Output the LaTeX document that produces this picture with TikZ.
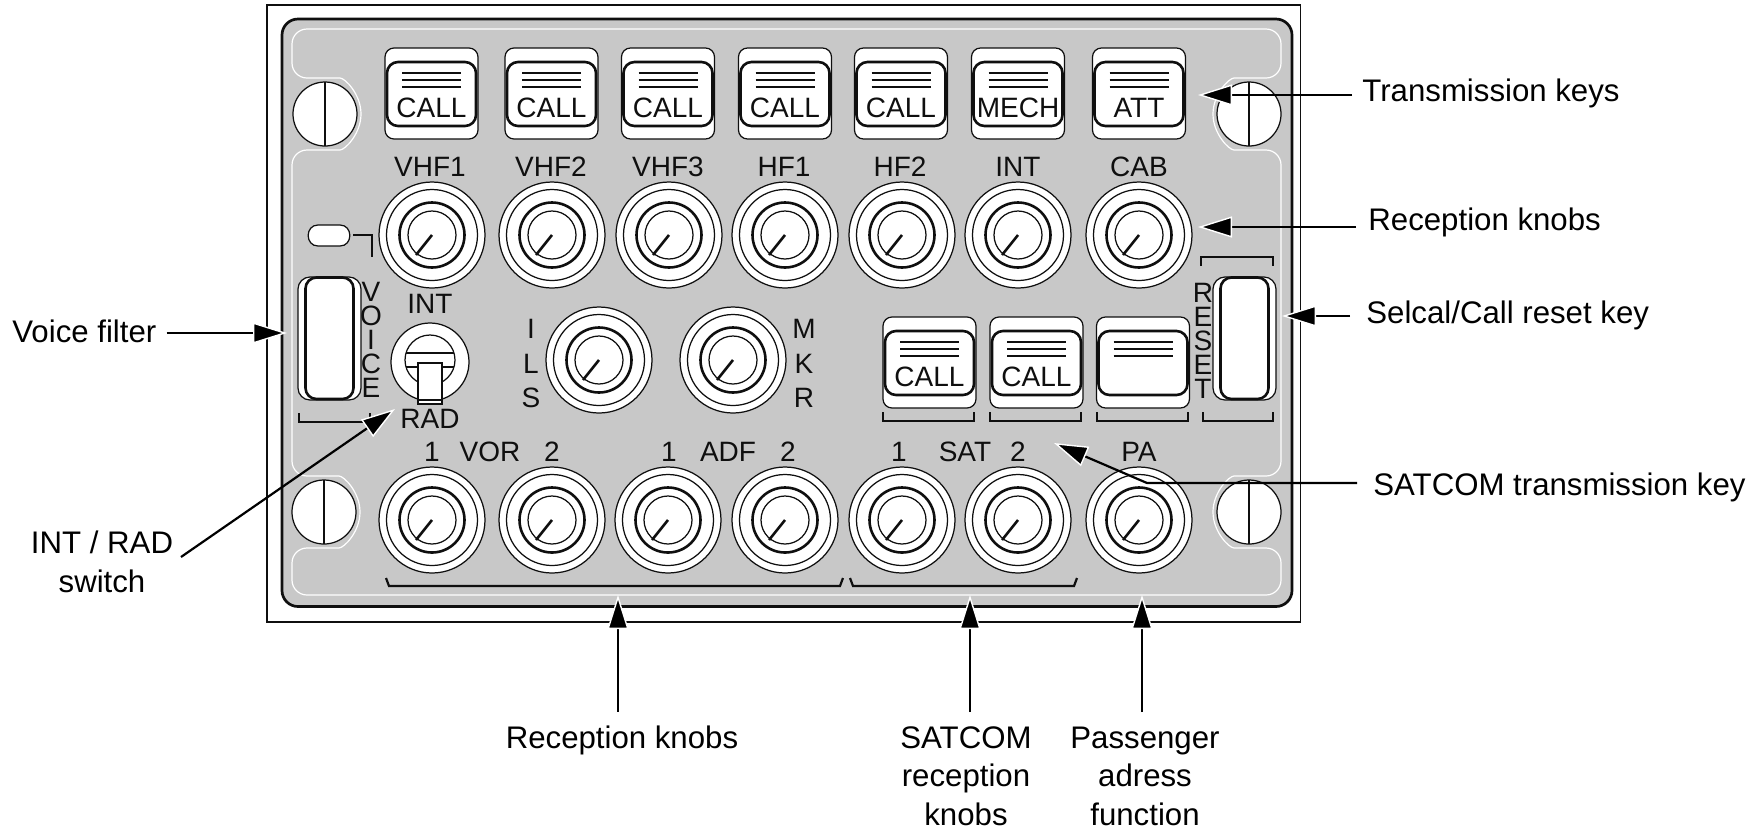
\documentclass[tikz,border=0pt]{standalone}
\usepackage{fontspec}
\setmainfont{Liberation Sans}
\usetikzlibrary{arrows.meta}
\definecolor{PanelGrey}{RGB}{200, 200, 200}
\definecolor{PanelInk}{RGB}{15, 15, 15}
\tikzset{
    frameline/.style={draw=PanelInk, line width=0.6pt},
    panelbody/.style={draw=PanelInk, fill=PanelGrey, line width=1.35pt, rounded corners=8pt},
    panelseam/.style={draw=white, line width=0.6pt, rounded corners=7.5pt},
    thinline/.style={draw=PanelInk, line width=0.62pt},
    heavyline/.style={draw=PanelInk, line width=1.3pt},
    bracketline/.style={draw=PanelInk, line width=1.1pt},
    paneltext/.style={inner sep=0pt, text=PanelInk, font=\fontsize{14}{12}\selectfont, align=center},
    wideletters/.style={paneltext, font=\fontsize{14}{17.25}\selectfont},
    notetext/.style={inner sep=0pt, text=black, font=\fontsize{15.6}{19.25}\selectfont, align=center},
    callout/.style={
      draw=black, line width=1.1pt,
      -{Triangle[length=17pt, width=10.5pt, line width=0.7pt, color=white, fill=black]}
    },
    keycap/.pic={
      \draw[thinline, fill=white, rounded corners=4.5pt] (-46.5,0) rectangle (46.5,91);
      \draw[heavyline, fill=white, rounded corners=5.5pt] (-44.5,14) rectangle (44.5,78);
      \foreach \capy in {25,32,39} {
        \draw[thinline] (-29.5,\capy) -- (29.5,\capy);
      }
      \node[paneltext] (-legend) at (0,60) {#1};
    },
    knobdial/.pic={
      \draw[thinline, fill=white] (0,0) circle[radius=53];
      \draw[thinline] (0,0) circle[radius=45.5];
      \draw[heavyline] (0,0) circle[radius=32.5];
      \draw[thinline] (0,0) circle[radius=24];
      \draw[heavyline] (0,0) -- (-16,20);
    },
    screwhead/.pic={
      \draw[thinline, fill=white] (0,0) circle[radius=32];
      \draw[thinline] (0,-32) -- (0,32);
    },
    tallkey/.pic={
      \draw[thinline, fill=white, rounded corners=6pt] (-31.5,-61.5) rectangle (31.5,61.5);
      \draw[heavyline, fill=white, rounded corners=5.5pt] (-24,-61) rectangle (24,60.5);
    }
}
\begin{document}
\begin{tikzpicture}[x=0.5pt, y=-0.5pt]
    \useasboundingbox (0,0) rectangle (1753,832);
    \draw[frameline] (267,5) rectangle (1300.5,622);
    \draw[panelbody] (282,19) rectangle (1292,606.5);
    \draw[panelseam] (325,29) -- (1281,29) -- (1281,78) -- (1249,78)
      arc[start angle=-90, end angle=-270, radius=36] -- (1281,150) -- (1281,476) -- (1249,476)
      arc[start angle=-90, end angle=-270, radius=36] -- (1281,548) -- (1281,595) -- (292,595) -- (292,548) -- (324,548)
      arc[start angle=90, end angle=-90, radius=36] -- (292,476) -- (292,150) -- (325,150)
      arc[start angle=90, end angle=-90, radius=36] -- (292,78) -- (292,29) -- cycle;

    \foreach \screwx/\screwy in {325/114, 1249/114, 324/512, 1249/512} {
      \pic at (\screwx,\screwy) {screwhead};
    }

    \foreach \keyx/\keyname/\keytext in {431.5/keyA/CALL, 551.5/keyB/CALL, 668/keyC/CALL, 785/keyD/CALL, 901/keyE/CALL, 1018/keyF/MECH, 1139/keyG/ATT} {
      \pic (\keyname) at (\keyx,48) {keycap=\keytext};
    }
    \foreach \keyx/\keyname/\keytext in {929.5/satA/CALL, 1036.5/satB/CALL, 1143/satC/{}} {
      \pic (\keyname) at (\keyx,317) {keycap=\keytext};
    }

    \foreach \knobx/\textx/\knobtext in {432/430/VHF1, 552/551/VHF2, 669/668/VHF3, 785/784/HF1, 902/900/HF2, 1018/1018/INT, 1139/1139/CAB} {
      \pic at (\knobx,235) {knobdial};
      \node[paneltext] (top\knobtext) at (\textx,167) {\knobtext};
    }
    \foreach \knobx in {432, 552, 668, 785, 902, 1018, 1139} {
      \pic at (\knobx,520) {knobdial};
    }
    \pic at (599,360) {knobdial};
    \pic at (733,360) {knobdial};

    \node[paneltext] (vorOne) at (432,452) {1};
    \node[paneltext] (vorText) at (490,452) {VOR};
    \node[paneltext] (vorTwo) at (552,452) {2};
    \node[paneltext] (adfOne) at (669,452) {1};
    \node[paneltext] (adfText) at (728,452) {ADF};
    \node[paneltext] (adfTwo) at (788,452) {2};
    \node[paneltext] (satOne) at (899,452) {1};
    \node[paneltext] (satText) at (965,452) {SAT};
    \node[paneltext] (satTwo) at (1018,452) {2};
    \node[paneltext] (paText) at (1139,452) {PA};
    \node[wideletters] (ilsText) at (531,363.5) {I\\L\\S};
    \node[wideletters] (mkrText) at (804,363.5) {M\\K\\R};

    \draw[thinline, fill=white] (309,235.5) ++(9,-10.5) -- ++(22,0) to[out=0, in=0, looseness=1.6] ++(0,21) -- ++(-22,0) to[out=180, in=180, looseness=1.6] cycle;
    \draw[bracketline] (353,235) -- (372,235) -- (372,257);

    \pic at (329.5,338.5) {tallkey};
    \node[paneltext] (voiceText) at (371,339.5) {V\\O\\I\\C\\E};
    \draw[bracketline] (299,413) -- (299,422) -- (370,422) -- (370,413);

    \pic at (1244.5,338.5) {tallkey};
    \node[paneltext] (resetText) at (1203,340.5) {R\\E\\S\\E\\T};
    \draw[bracketline] (1201,266) -- (1201,257) -- (1273,257) -- (1273,266);
    \draw[bracketline] (1203,412) -- (1203,421) -- (1273,421) -- (1273,412);

    \foreach \bracketl/\bracketr in {883/974, 990/1081, 1097/1188} {
      \draw[bracketline] (\bracketl,412) -- (\bracketl,421) -- (\bracketr,421) -- (\bracketr,412);
    }
    \draw[bracketline] (386,578) -- (389,586) -- (840,586) -- (843,578);
    \draw[bracketline] (850,578) -- (853,586) -- (1074,586) -- (1077,578);

    \node[paneltext] (intText) at (430,304) {INT};
    \node[paneltext] (radText) at (430,419) {RAD};
    \draw[thinline, fill=white] (430,362) circle[radius=39];
    \draw[thinline] (430,360) circle[radius=25];
    \draw[thinline] (406,353) -- (454,353);
    \draw[thinline] (406,367) -- (454,367);
    \draw[thinline, fill=white] (418,363) rectangle (442,404);
    \draw[thinline] (418,400) -- (442,400);

    \node[notetext, anchor=west] (labelTransmission) at (1362,93) {Transmission keys};
    \node[notetext, anchor=west] (labelReception) at (1368,222.5) {Reception knobs};
    \node[notetext, anchor=west] (labelSelcal) at (1366,315.5) {Selcal/Call reset key};
    \node[notetext, anchor=west] (labelSatKey) at (1373,487) {SATCOM transmission key};
    \node[notetext, anchor=west] (labelVoice) at (12,331) {Voice filter};
    \node[notetext] (labelSwitch) at (102,562) {INT / RAD\\switch};
    \node[notetext] (labelKnobs) at (622,740.5) {Reception knobs};
    \node[notetext] (labelSatKnobs) at (966,776) {SATCOM\\reception\\knobs};
    \node[notetext] (labelPassenger) at (1145,776) {Passenger\\adress\\function};

    \coordinate (tipTransmission) at (1198,95);
    \coordinate (tipReception) at (1198,227);
    \coordinate (tipSelcal) at (1282,316);
    \coordinate (tipSatKey) at (1054,443);
    \coordinate (elbowSatKey) at (1147,483);
    \coordinate (tipVoice) at (287,333);
    \coordinate (tipSwitch) at (395,409);
    \coordinate (tailSwitch) at (181,557);
    \coordinate (tipKnobs) at (618,595);
    \coordinate (tipSatKnobs) at (970,595);
    \coordinate (tipPassenger) at (1142,595);

    \draw[callout, shorten <=5pt] (labelTransmission.west |- tipTransmission) -- (tipTransmission);
    \draw[callout, shorten <=6pt] (labelReception.west |- tipReception) -- (tipReception);
    \draw[callout, shorten <=8pt] (labelSelcal.west |- tipSelcal) -- (tipSelcal);
    \draw[callout, shorten <=8pt] (labelSatKey.west |- elbowSatKey) -- (elbowSatKey) -- (tipSatKey);
    \draw[callout, shorten <=5pt] (labelVoice.east |- tipVoice) -- (tipVoice);
    \draw[callout] (tailSwitch) -- (tipSwitch);
    \draw[callout, shorten <=7pt] (labelKnobs.north -| tipKnobs) -- (tipKnobs);
    \draw[callout, shorten <=7pt] (labelSatKnobs.north -| tipSatKnobs) -- (tipSatKnobs);
    \draw[callout, shorten <=7pt] (labelPassenger.north -| tipPassenger) -- (tipPassenger);
\end{tikzpicture}
\end{document}
